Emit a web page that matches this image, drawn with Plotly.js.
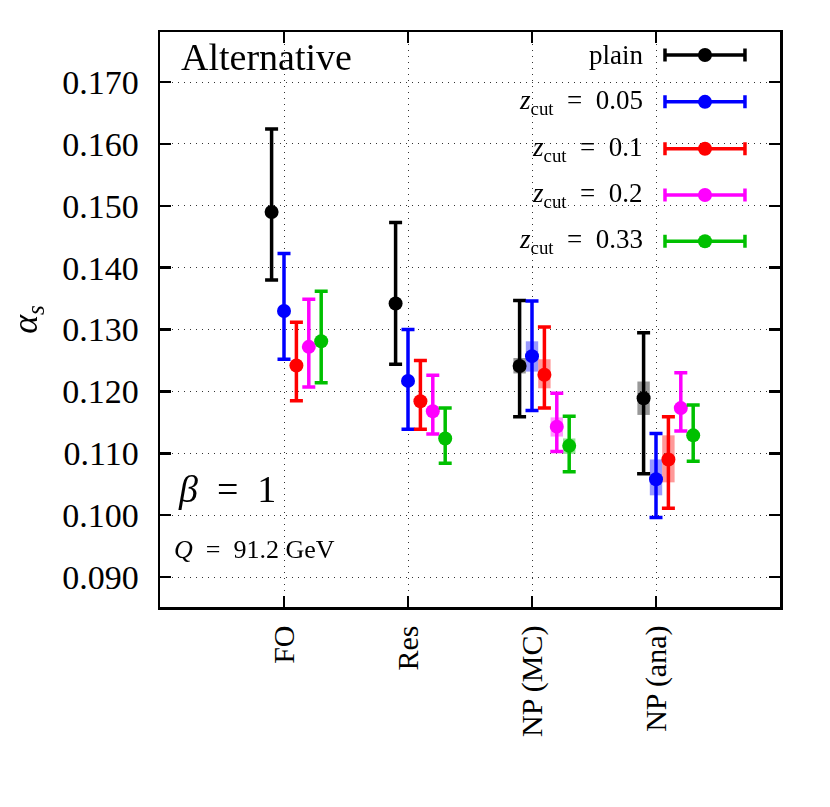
<!DOCTYPE html>
<html>
<head>
<meta charset="utf-8">
<script src="https://cdn.plot.ly/plotly-3.0.1.min.js"></script>
<style>html,body{margin:0;padding:0;background:#fff;}#chart{width:830px;height:807px;}</style>
</head>
<body>
<div id="chart"></div>
<script>
// ---- data ----
const categories = ['FO', 'Res', 'NP (MC)', 'NP (ana)'];
const seriesNames = ['plain', 'z0.05', 'z0.1', 'z0.2', 'z0.33'];
const legendLabels = ['plain', '<i>z</i><sub>cut</sub>&nbsp; = &nbsp;0.05', '<i>z</i><sub>cut</sub>&nbsp; = &nbsp;0.1', '<i>z</i><sub>cut</sub>&nbsp; = &nbsp;0.2', '<i>z</i><sub>cut</sub>&nbsp; = &nbsp;0.33'];
const seriesColors = ['#000000', '#0000ff', '#ff0000', '#ff00ff', '#00c000'];
const seriesOffsets = [-0.1, 0.0, 0.1, 0.2, 0.3];

// central values
const plainCentral = [0.1490, 0.1342, 0.1241, 0.1189];
const z005Central  = [0.1330, 0.1217, 0.1257, 0.1058];
const z01Central   = [0.1242, 0.1184, 0.1227, 0.1090];
const z02Central   = [0.1272, 0.1168, 0.1143, 0.1173];
const z033Central  = [0.1281, 0.1124, 0.1112, 0.1129];
// upper ends of error bars
const plainUpper = [0.1624, 0.1473, 0.1347, 0.1295];
const z005Upper  = [0.1423, 0.1300, 0.1346, 0.1132];
const z01Upper   = [0.1312, 0.1250, 0.1304, 0.1159];
const z02Upper   = [0.1349, 0.1226, 0.1197, 0.1230];
const z033Upper  = [0.1362, 0.1173, 0.1160, 0.1178];
// lower ends of error bars
const plainLower = [0.1380, 0.1244, 0.1159, 0.1067];
const z005Lower  = [0.1252, 0.1139, 0.1169, 0.0996];
const z01Lower   = [0.1185, 0.1139, 0.1173, 0.1011];
const z02Lower   = [0.1207, 0.1131, 0.1103, 0.1136];
const z033Lower  = [0.1214, 0.1084, 0.1070, 0.1087];
// shaded band (lower, upper) — null where absent
const plainBandLo = [null, null, 0.1229, 0.1162];
const plainBandHi = [null, null, 0.1254, 0.1216];
const z005BandLo  = [null, null, 0.1232, 0.1032];
const z005BandHi  = [null, null, 0.1281, 0.1090];
const z01BandLo   = [null, null, 0.1205, 0.1053];
const z01BandHi   = [null, null, 0.1252, 0.1129];
const z02BandLo   = [null, null, 0.1127, null];
const z02BandHi   = [null, null, 0.1158, null];
const z033BandLo  = [null, null, 0.1099, null];
const z033BandHi  = [null, null, 0.1124, null];

const yTickVals = [0.09, 0.10, 0.11, 0.12, 0.13, 0.14, 0.15, 0.16, 0.17];
const yTickText = ['0.090', '0.100', '0.110', '0.120', '0.130', '0.140', '0.150', '0.160', '0.170'];

const centrals = [plainCentral, z005Central, z01Central, z02Central, z033Central];
const uppers = [plainUpper, z005Upper, z01Upper, z02Upper, z033Upper];
const lowers = [plainLower, z005Lower, z01Lower, z02Lower, z033Lower];
const bandLos = [plainBandLo, z005BandLo, z01BandLo, z02BandLo, z033BandLo];
const bandHis = [plainBandHi, z005BandHi, z01BandHi, z02BandHi, z033BandHi];

// ---- styling ----
const FONT = 'Liberation Serif, Times New Roman, serif';
const catPos = categories.map((c, i) => i + 1);

const traces = [];
// shaded bands as bars
seriesNames.forEach((name, s) => {
  const xs = [], bases = [], heights = [];
  catPos.forEach((p, i) => {
    if (bandLos[s][i] !== null) {
      xs.push(p + seriesOffsets[s]);
      bases.push(bandLos[s][i]);
      heights.push(bandHis[s][i] - bandLos[s][i]);
    }
  });
  traces.push({
    type: 'bar', x: xs, y: heights, base: bases, width: 0.1,
    marker: {color: seriesColors[s], line: {width: 0}}, opacity: 0.4,
    showlegend: false, hoverinfo: 'skip', xaxis: 'x', yaxis: 'y'
  });
});
// points with error bars
seriesNames.forEach((name, s) => {
  traces.push({
    type: 'scatter', mode: 'markers', name: name,
    x: catPos.map(p => p + seriesOffsets[s]),
    y: centrals[s],
    error_y: {
      type: 'data', symmetric: false,
      array: uppers[s].map((u, i) => u - centrals[s][i]),
      arrayminus: lowers[s].map((l, i) => centrals[s][i] - l),
      color: seriesColors[s], thickness: 3.5, width: 6.5
    },
    marker: {color: seriesColors[s], size: 14},
    showlegend: false, cliponaxis: false, xaxis: 'x', yaxis: 'y'
  });
});

// custom legend (overlay axes in [0,1])
const legX = 0.879, legHalf = 0.0645, legTextX = 0.782;
const legRowY = [0.960, 0.8785, 0.797, 0.7165, 0.636];
seriesNames.forEach((name, s) => {
  traces.push({
    type: 'scatter', mode: 'markers', x: [legX], y: [legRowY[s]],
    error_x: {type: 'data', array: [legHalf], color: seriesColors[s], thickness: 3.5, width: 6.5},
    marker: {color: seriesColors[s], size: 14},
    showlegend: false, hoverinfo: 'skip', xaxis: 'x2', yaxis: 'y2', cliponaxis: false
  });
});

const annotations = legendLabels.map((lab, s) => ({
  xref: 'x2', yref: 'y2', x: legTextX, y: legRowY[s], xanchor: 'right', yanchor: 'middle',
  text: lab, showarrow: false, font: {family: FONT, size: 27, color: '#000'}
}));
annotations.push(
  {xref: 'paper', yref: 'paper', x: 0.030, y: 0.957, xanchor: 'left', yanchor: 'middle',
   text: 'Alternative', showarrow: false, font: {family: FONT, size: 38, color: '#000'}},
  {xref: 'paper', yref: 'paper', x: 0.025, y: 0.205, xanchor: 'left', yanchor: 'middle',
   text: '<i>β</i>&nbsp; = &nbsp;1', showarrow: false, font: {family: FONT, size: 38, color: '#000'}},
  {xref: 'paper', yref: 'paper', x: 0.019, y: 0.100, xanchor: 'left', yanchor: 'middle',
   text: '<i>Q</i>&nbsp; = &nbsp;91.2 GeV', showarrow: false, font: {family: FONT, size: 26, color: '#000'}}
);

const layout = {
  width: 830, height: 807,
  margin: {l: 160, r: 50, t: 32, b: 200},
  paper_bgcolor: '#fff', plot_bgcolor: '#fff',
  showlegend: false, barmode: 'overlay',
  font: {family: FONT, color: '#000'},
  xaxis: {
    range: [0, 5], tickmode: 'array', tickvals: catPos, ticktext: categories,
    tickangle: -90, tickfont: {family: FONT, size: 30, color: '#000'},
    ticks: 'inside', ticklen: 11, tickwidth: 2.5, tickcolor: '#000',
    showline: true, linewidth: 2.5, linecolor: '#000', mirror: 'ticks',
    showgrid: true, gridcolor: '#333', gridwidth: 1, griddash: '1px,5px',
    zeroline: false, ticklabelstandoff: 4
  },
  yaxis: {
    range: [0.08515, 0.1781], tickmode: 'array', tickvals: yTickVals, ticktext: yTickText,
    tickfont: {family: FONT, size: 34, color: '#000'},
    ticks: 'inside', ticklen: 11, tickwidth: 2.5, tickcolor: '#000',
    showline: true, linewidth: 2.5, linecolor: '#000', mirror: 'ticks',
    showgrid: true, gridcolor: '#333', gridwidth: 1, griddash: '1px,5px',
    zeroline: false, ticklabelstandoff: 12,
    title: {text: '<i>α</i><sub><i>s</i></sub>', font: {family: FONT, size: 36, color: '#000'}, standoff: 14}
  },
  xaxis2: {overlaying: 'x', range: [0, 1], visible: false, fixedrange: true},
  yaxis2: {overlaying: 'y', range: [0, 1], visible: false, fixedrange: true},
  shapes: [
    {type: 'rect', xref: 'paper', yref: 'paper', x0: 0.458, x1: 0.966, y0: 0.605, y1: 0.995,
     fillcolor: '#fff', line: {width: 0}, layer: 'between'}
  ],
  annotations: annotations
};

Plotly.newPlot('chart', traces, layout, {staticPlot: true, displayModeBar: false});
</script>
</body>
</html>
